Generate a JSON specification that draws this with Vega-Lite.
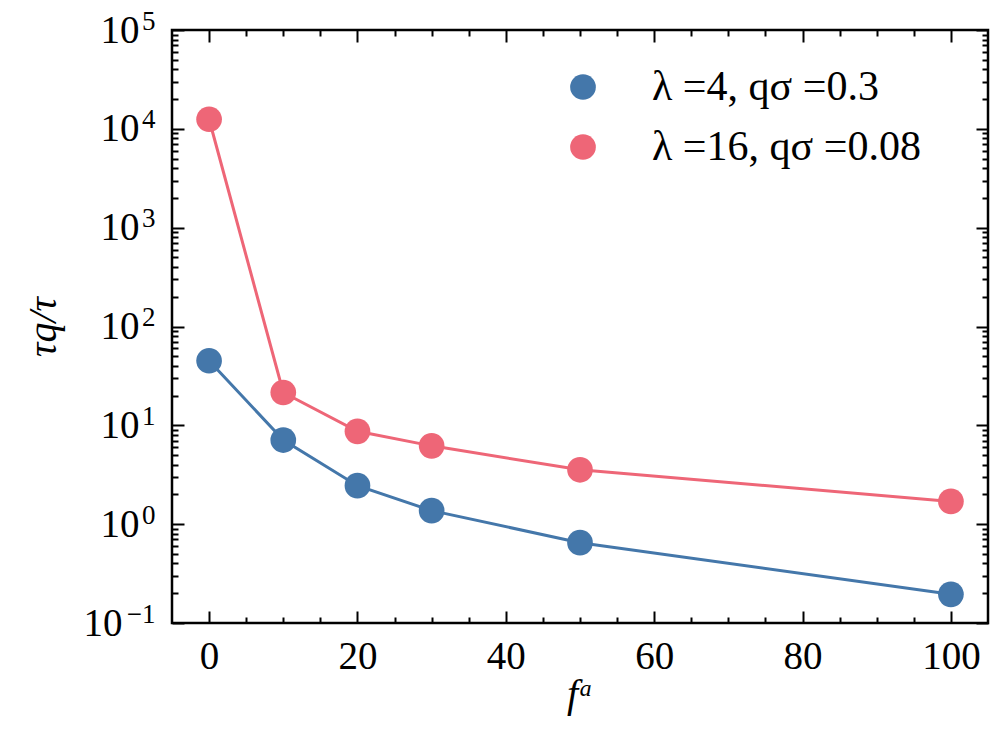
{
  "$schema": "https://vega.github.io/schema/vega-lite/v6.json",
  "width": 816,
  "height": 593,
  "autosize": "none",
  "padding": {"left": 172, "top": 30, "right": 14, "bottom": 121},
  "background": "white",
  "config": {
    "font": "Liberation Serif",
    "view": {"stroke": "black", "strokeWidth": 2.5},
    "axis": {
      "domain": false,
      "grid": false,
      "tickColor": "black",
      "tickWidth": 2,
      "labelFont": "Liberation Serif",
      "labelFontSize": 39,
      "labelColor": "black",
      "labelFlush": false,
      "labelOverlap": false,
      "titleFont": "Liberation Serif",
      "titleFontSize": 40,
      "titleFontWeight": "normal",
      "titleFontStyle": "italic",
      "titleColor": "black"
    }
  },
  "datasets": {
    "pts": [
      {"f": 0, "tau": 45, "series": "λ =4, qσ =0.3"},
      {"f": 10, "tau": 7.1, "series": "λ =4, qσ =0.3"},
      {"f": 20, "tau": 2.45, "series": "λ =4, qσ =0.3"},
      {"f": 30, "tau": 1.37, "series": "λ =4, qσ =0.3"},
      {"f": 50, "tau": 0.65, "series": "λ =4, qσ =0.3"},
      {"f": 100, "tau": 0.195, "series": "λ =4, qσ =0.3"},
      {"f": 0, "tau": 12500, "series": "λ =16, qσ =0.08"},
      {"f": 10, "tau": 21.5, "series": "λ =16, qσ =0.08"},
      {"f": 20, "tau": 8.7, "series": "λ =16, qσ =0.08"},
      {"f": 30, "tau": 6.2, "series": "λ =16, qσ =0.08"},
      {"f": 50, "tau": 3.55, "series": "λ =16, qσ =0.08"},
      {"f": 100, "tau": 1.7, "series": "λ =16, qσ =0.08"}
    ]
  },
  "data": {"name": "pts"},
  "layer": [
    {
      "mark": {"type": "line", "strokeWidth": 3},
      "encoding": {
        "x": {"field": "f", "type": "quantitative", "scale": {"domain": [-5, 105], "nice": false, "zero": false}, "axis": null},
        "y": {"field": "tau", "type": "quantitative", "scale": {"type": "log", "domain": [0.1, 100000], "nice": false}, "axis": null},
        "color": {
          "field": "series", "type": "nominal",
          "scale": {"domain": ["λ =4, qσ =0.3", "λ =16, qσ =0.08"], "range": ["#4477AA", "#EE6677"]},
          "legend": null
        }
      }
    },
    {
      "mark": {"type": "point", "filled": true, "size": 660, "opacity": 1},
      "encoding": {
        "x": {
          "field": "f", "type": "quantitative",
          "axis": {
            "orient": "bottom",
            "title": "fᵃ",
            "titlePadding": -8,
            "values": [0, 5, 10, 15, 20, 25, 30, 35, 40, 45, 50, 55, 60, 65, 70, 75, 80, 85, 90, 95, 100],
            "labelExpr": "datum.value % 20 === 0 ? datum.label : ''",
            "tickSize": {"condition": {"test": "datum.value % 20 === 0", "value": -12}, "value": -6},
            "labelPadding": 26
          }
        },
        "y": {
          "field": "tau", "type": "quantitative",
          "axis": {
            "orient": "left",
            "title": "τq/τ",
            "titlePadding": 20,
            "values": [0.1, 0.2, 0.3, 0.4, 0.5, 0.6, 0.7, 0.8, 0.9, 1, 2, 3, 4, 5, 6, 7, 8, 9, 10, 20, 30, 40, 50, 60, 70, 80, 90, 100, 200, 300, 400, 500, 600, 700, 800, 900, 1000, 2000, 3000, 4000, 5000, 6000, 7000, 8000, 9000, 10000, 20000, 30000, 40000, 50000, 60000, 70000, 80000, 90000, 100000],
            "labelExpr": "abs(log(datum.value) / LN10 - round(log(datum.value) / LN10)) < 0.001 ? '10' : ''",
            "tickSize": {"condition": {"test": "abs(log(datum.value) / LN10 - round(log(datum.value) / LN10)) < 0.001", "value": -12}, "value": -6},
            "labelPadding": {"condition": {"test": "datum.value < 0.5", "value": 62}, "value": 45}
          }
        },
        "color": {
          "field": "series", "type": "nominal",
          "legend": {
            "orient": "none",
            "legendX": 390,
            "legendY": 36,
            "title": null,
            "padding": 0,
            "symbolType": "circle",
            "symbolSize": 660,
            "symbolStrokeWidth": 0,
            "symbolOpacity": 1,
            "labelFont": "Liberation Serif",
            "labelFontSize": 42,
            "labelColor": "black",
            "labelOffset": 48,
            "rowPadding": 18,
            "labelLimit": 600
          }
        }
      }
    },
    {
      "mark": {"type": "point", "opacity": 0},
      "encoding": {
        "x": {"field": "f", "type": "quantitative", "axis": null},
        "y": {
          "field": "tau", "type": "quantitative",
          "axis": {
            "orient": "left",
            "title": null,
            "ticks": false,
            "values": [0.1, 1, 10, 100, 1000, 10000, 100000],
            "labelExpr": "datum.value < 0.5 ? '−1' : format(round(log(datum.value) / LN10), 'd')",
            "labelFontSize": 27,
            "labelPadding": 17,
            "labelOffset": -9
          }
        }
      }
    },
    {
      "mark": {"type": "point", "opacity": 0},
      "encoding": {
        "x": {
          "field": "f", "type": "quantitative",
          "axis": {
            "orient": "top",
            "title": null,
            "labels": false,
            "values": [0, 5, 10, 15, 20, 25, 30, 35, 40, 45, 50, 55, 60, 65, 70, 75, 80, 85, 90, 95, 100],
            "tickSize": {"condition": {"test": "datum.value % 20 === 0", "value": -12}, "value": -6}
          }
        },
        "y": {
          "field": "tau", "type": "quantitative",
          "axis": {
            "orient": "right",
            "title": null,
            "labels": false,
            "values": [0.1, 0.2, 0.3, 0.4, 0.5, 0.6, 0.7, 0.8, 0.9, 1, 2, 3, 4, 5, 6, 7, 8, 9, 10, 20, 30, 40, 50, 60, 70, 80, 90, 100, 200, 300, 400, 500, 600, 700, 800, 900, 1000, 2000, 3000, 4000, 5000, 6000, 7000, 8000, 9000, 10000, 20000, 30000, 40000, 50000, 60000, 70000, 80000, 90000, 100000],
            "tickSize": {"condition": {"test": "abs(log(datum.value) / LN10 - round(log(datum.value) / LN10)) < 0.001", "value": -12}, "value": -6}
          }
        }
      }
    }
  ],
  "resolve": {
    "axis": {"x": "independent", "y": "independent"},
    "legend": {"color": "independent"}
  }
}
